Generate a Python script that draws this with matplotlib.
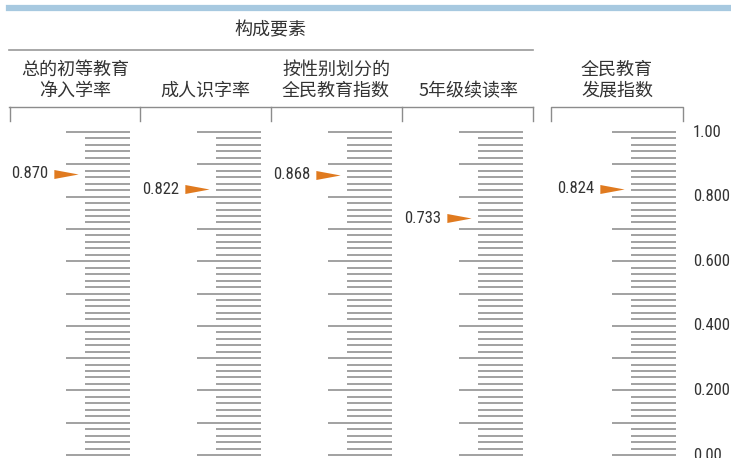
import matplotlib
matplotlib.use("Agg")
import matplotlib.pyplot as plt
from matplotlib.path import Path
from matplotlib.lines import Line2D
from matplotlib.font_manager import FontProperties
import numpy as np
from matplotlib import font_manager

# ---- data ----
group_title = "构成要素"
headers = [["总的初等教育", "净入学率"], ["", "成人识字率"], ["按性别划分的", "全民教育指数"],
           ["", "5年级续读率"], ["全民教育", "发展指数"]]
values = [0.870, 0.822, 0.868, 0.733, 0.824]
value_labels = ["0.870", "0.822", "0.868", "0.733", "0.824"]
axis_ticks = [1.0, 0.8, 0.6, 0.4, 0.2, 0.0]
axis_labels = ["1.00", "0.800", "0.600", "0.400", "0.200", "0.00"]

# ---- layout (pixels) ----
W, H = 731, 458
col_end = [130, 261, 392, 523, 676]
header_cx = [75, 205, 336, 469, 617]
y_top_px, y_bot_px = 132, 455
scale = y_bot_px - y_top_px

# pick a narrow / condensed regular font if one is installed
def _is_regular(f):
    return f.weight in (400, "normal", "regular", "book") and f.style == "normal"

cond = None
for pref in ["Liberation Sans Narrow", "Roboto Condensed", "Open Sans Condensed", "Noto Sans", "DejaVu Sans"]:
    for f in font_manager.fontManager.ttflist:
        if f.name == pref and _is_regular(f) and (
                f.stretch in ("condensed", "semi-condensed") or "Narrow" in f.name or "Condensed" in f.name):
            cond = f
            break
    if cond is not None:
        break

if cond is not None and cond.name != "DejaVu Sans":
    num_fp = FontProperties(fname=cond.fname, size=12)
else:
    num_fp = FontProperties(family=["Roboto", "DejaVu Sans"], size=10.8)

cjk = ["Noto Sans CJK SC", "DejaVu Sans"]
txt_color = "#333333"
tick_color = "#9a9a9a"
orange = "#E07A1F"

fig = plt.figure(figsize=(W / 100, H / 100), dpi=100)
ax = fig.add_axes([0, 0, 1, 1])
ax.set_xlim(0, W)
ax.set_ylim((y_bot_px - H) / scale, y_bot_px / scale)
ax.axis("off")

def fx(x):
    return x / W

def fy(y):
    return 1 - y / H

# header decorations
fig.add_artist(Line2D([fx(9), fx(731)], [fy(8), fy(8)], color="#a7c9e0", lw=4.5))
fig.text(fx(270), fy(30), group_title, family=cjk, fontsize=13, color=txt_color, ha="center", va="center")
fig.add_artist(Line2D([fx(9), fx(533)], [fy(50), fy(50)], color="#999999", lw=1.2))
for cx, (l1, l2) in zip(header_cx, headers):
    if l1:
        fig.text(fx(cx), fy(70), l1, family=cjk, fontsize=13, color=txt_color, ha="center", va="center")
    fig.text(fx(cx), fy(91), l2, family=cjk, fontsize=13, color=txt_color, ha="center", va="center")

# brackets
brk_color = "#8c8c8c"
fig.add_artist(Line2D([fx(9), fx(533)], [fy(106.5), fy(106.5)], color=brk_color, lw=1.0))
for xb in [9.5, 139.5, 271, 402, 533]:
    fig.add_artist(Line2D([fx(xb), fx(xb)], [fy(106.5), fy(121)], color=brk_color, lw=1.0))
fig.add_artist(Line2D([fx(551), fx(551), fx(683), fx(683)], [fy(121), fy(106.5), fy(106.5), fy(121)],
                      color=brk_color, lw=1.0))

# scale ticks
major = np.round(np.arange(0, 1.0001, 0.1), 3)
minor = np.round(np.arange(0, 1.0001, 0.02), 3)
minor = np.array([m for m in minor if not np.isclose(m * 10, round(m * 10))])
for ce in col_end:
    ax.hlines(major, ce - 64, ce, color=tick_color, lw=1.3)
    ax.hlines(minor, ce - 45, ce, color=tick_color, lw=1.3)

# arrow markers
tri = Path([(-1, -0.37), (1, 0), (-1, 0.37), (-1, -0.37)],
           [Path.MOVETO, Path.LINETO, Path.LINETO, Path.CLOSEPOLY])
for ce, v, lab in zip(col_end, values, value_labels):
    ax.plot([ce - 64], [v], marker=tri, markersize=17.5, color=orange, mec="none", ls="none")
    ax.text(ce - 82, v, lab, fontproperties=num_fp, color=txt_color, ha="right", va="center")

# right-hand scale labels
for t, lab in zip(axis_ticks, axis_labels):
    ax.text(693, t, lab, fontproperties=num_fp, color=txt_color, ha="left", va="center")

fig.savefig("out.png", dpi=100)
